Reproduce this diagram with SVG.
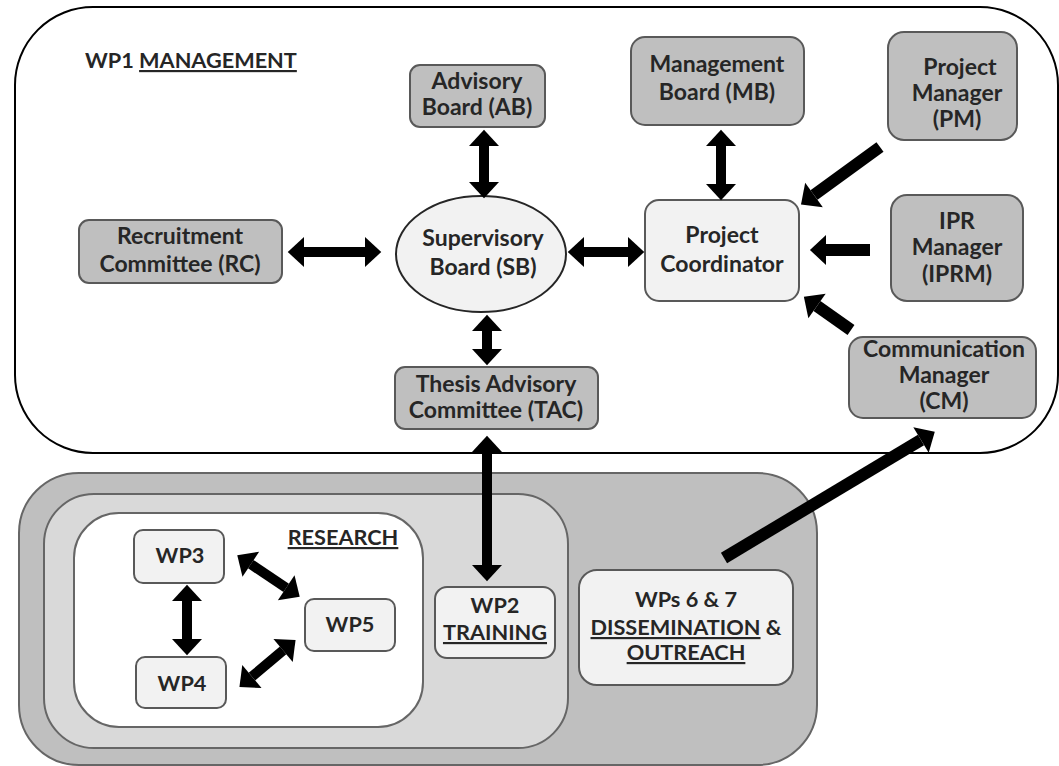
<svg xmlns="http://www.w3.org/2000/svg" width="1059" height="766" viewBox="0 0 1059 766">
<style>
text{font-family:Lato,"Liberation Sans",sans-serif;font-weight:bold;font-size:23px;fill:#262626;text-anchor:middle}
.b text,text.b{font-size:21.7px}
.g{fill:#bfbfbf;stroke:#595959;stroke-width:2}
.l{fill:#f2f2f2;stroke:#595959;stroke-width:2}
.a{stroke:#000;stroke-width:10;fill:none;marker-start:url(#h);marker-end:url(#h)}
.s{stroke:#000;stroke-width:12;fill:none;marker-end:url(#H)}
.u{text-decoration:underline}
</style>
<defs>
<marker id="h" markerUnits="userSpaceOnUse" markerWidth="30" markerHeight="30" refX="0" refY="12" orient="auto-start-reverse" viewBox="0 0 14 24" overflow="visible"><path d="M0,0L13,12L0,24Z" fill="#000"/></marker>
<marker id="H" markerUnits="userSpaceOnUse" markerWidth="30" markerHeight="30" refX="0" refY="14" orient="auto" viewBox="0 0 16 28" overflow="visible"><path d="M0,0L15,14L0,28Z" fill="#000"/></marker>
</defs>
<rect width="1059" height="766" fill="#fff"/>
<g id="wp1">
<rect x="15" y="7" width="1043" height="446" rx="78" fill="#fff" stroke="#000" stroke-width="2"/>
<text x="85" y="68" class="b" style="text-anchor:start">WP1 <tspan class="u">MANAGEMENT</tspan></text>
</g>
<g id="outer-box"><rect x="19" y="473" width="798" height="292" rx="60" fill="#bfbfbf" stroke="#666" stroke-width="2"/></g>
<g id="middle-box"><rect x="44" y="494" width="524" height="254" rx="50" fill="#d9d9d9" stroke="#666" stroke-width="2"/></g>
<g id="research" class="b">
<rect x="74" y="513" width="349" height="214" rx="45" fill="#fff" stroke="#666" stroke-width="2"/>
<text x="343" y="545" class="u">RESEARCH</text>
</g>
<g id="ab"><rect class="g" x="410" y="65" width="135" height="62" rx="10"/><text x="477" y="89">Advisory</text><text x="477" y="115">Board (AB)</text></g>
<g id="mb"><rect class="g" x="631" y="37" width="173" height="88" rx="14"/><text x="717" y="72">Management</text><text x="717" y="100">Board (MB)</text></g>
<g id="pm"><rect class="g" x="888" y="32" width="129" height="108" rx="16"/><text x="960" y="75">Project</text><text x="957" y="101">Manager</text><text x="957" y="127">(PM)</text></g>
<g id="rc"><rect class="g" x="79" y="220" width="203" height="63" rx="10"/><text x="180" y="244">Recruitment</text><text x="180" y="272">Committee (RC)</text></g>
<g id="sb"><ellipse cx="481" cy="254" rx="85" ry="58" fill="#f2f2f2" stroke="#262626" stroke-width="2"/><text x="483" y="246">Supervisory</text><text x="483" y="275">Board (SB)</text></g>
<g id="pc"><rect class="l" x="645" y="200" width="154" height="101" rx="14"/><text x="722" y="243">Project</text><text x="722" y="272">Coordinator</text></g>
<g id="iprm"><rect class="g" x="891" y="195" width="132" height="106" rx="16"/><text x="957" y="229">IPR</text><text x="957" y="255">Manager</text><text x="957" y="282">(IPRM)</text></g>
<g id="tac"><rect class="g" x="395" y="367" width="203" height="62" rx="10"/><text x="496" y="392">Thesis Advisory</text><text x="496" y="418">Committee (TAC)</text></g>
<g id="cm"><rect class="g" x="849" y="337" width="187" height="81" rx="14"/><text x="944" y="357">Communication</text><text x="944" y="383">Manager</text><text x="944" y="409">(CM)</text></g>
<g id="wp3" class="b"><rect class="l" x="134" y="530" width="90" height="53" rx="9"/><text x="180" y="563">WP3</text></g>
<g id="wp4" class="b"><rect class="l" x="136" y="657" width="90" height="51" rx="9"/><text x="182" y="691">WP4</text></g>
<g id="wp5" class="b"><rect class="l" x="305" y="599" width="90" height="52" rx="9"/><text x="350" y="632">WP5</text></g>
<g id="wp2" class="b"><rect class="l" x="435" y="587" width="120" height="71" rx="12"/><text x="495" y="613">WP2</text><text x="495" y="640" class="u">TRAINING</text></g>
<g id="wp67" class="b"><rect class="l" x="579" y="570" width="214" height="115" rx="18"/><text x="686" y="607">WPs 6 &amp; 7</text><text x="686" y="635"><tspan class="u">DISSEMINATION</tspan> &amp;</text><text x="686" y="660" class="u">OUTREACH</text></g>
<g id="connectors">
<line class="a" x1="484" y1="146" x2="484" y2="182"/>
<line class="a" x1="304" y1="252" x2="365" y2="252"/>
<line class="a" x1="584" y1="252" x2="628" y2="252"/>
<line class="a" x1="721" y1="146" x2="721" y2="184"/>
<line class="a" x1="487" y1="331" x2="487" y2="349"/>
<line class="a" x1="487" y1="452" x2="487" y2="565"/>
<line class="a" x1="187" y1="601" x2="187" y2="639"/>
<line class="a" x1="250.8" y1="564.2" x2="286.2" y2="587.8"/>
<line class="a" x1="251.9" y1="676.6" x2="283.1" y2="650.4"/>
<line class="s" x1="880" y1="147" x2="814" y2="195"/>
<line class="s" x1="870" y1="250" x2="826" y2="250"/>
<line class="s" x1="851" y1="330" x2="817" y2="306"/>
<line class="s" x1="724" y1="558" x2="921" y2="440"/>
</g>
</svg>
